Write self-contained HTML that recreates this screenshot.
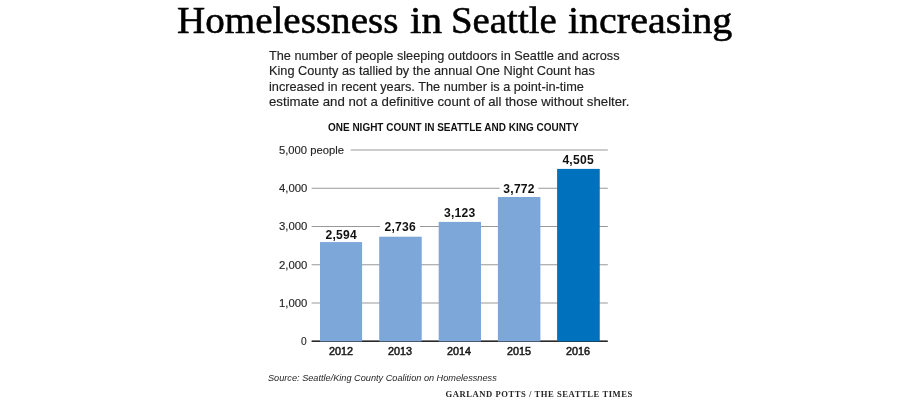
<!DOCTYPE html>
<html><head><meta charset="utf-8">
<style>
html,body{margin:0;padding:0;background:#fff;}
body{width:900px;height:400px;position:relative;overflow:hidden;font-family:"Liberation Sans",sans-serif;color:#1a1a1a;}
.abs{position:absolute;white-space:nowrap;transform-origin:left top;}
.tt{top:-1px;font-family:"Liberation Serif",serif;font-size:37.5px;line-height:44px;color:#000;-webkit-text-stroke:0.55px #000;}
.d{font-size:13px;line-height:15px;color:#222;left:269px;-webkit-text-stroke:0.15px #222;}
#sub{left:327.5px;top:120.8px;font-size:11.2px;line-height:12px;font-weight:bold;color:#111;transform:scaleX(0.892);}
.yl{position:absolute;font-size:11.6px;line-height:12px;color:#262626;-webkit-text-stroke:0.15px #262626;white-space:nowrap;transform-origin:left top;}
.xl{position:absolute;font-size:11.7px;line-height:12px;color:#1a1a1a;white-space:nowrap;transform-origin:left top;-webkit-text-stroke:0.55px #1a1a1a;}
.vl{position:absolute;font-size:12.1px;letter-spacing:0.25px;line-height:12px;font-weight:bold;color:#111;white-space:nowrap;padding:0 4px;transform-origin:left top;}
#src{left:267.8px;top:372.0px;font-size:9.7px;line-height:11px;font-style:italic;color:#262626;transform:scaleX(0.946);}
#cred{left:445.4px;top:388.7px;font-family:"Liberation Serif",serif;font-size:8.6px;line-height:11px;font-weight:bold;letter-spacing:0.55px;color:#262626;}
#wrap{position:absolute;left:0;top:0;width:900px;height:400px;will-change:transform;}
</style></head><body><div id="wrap">
<div id="t1" class="abs tt" style="left:176.6px;transform:scaleX(1.042)">Homelessness</div>
<div id="t2" class="abs tt" style="left:409.7px;transform:scaleX(1.10)">in</div>
<div id="t3" class="abs tt" style="left:451.4px;transform:scaleX(1.036)">Seattle</div>
<div id="t4" class="abs tt" style="left:568.0px;transform:scaleX(1.066)">increasing</div>

<div id="d1" class="abs d" style="top:47.9px;transform:scaleX(0.978)">The number of people sleeping outdoors in Seattle and across</div>
<div id="d2" class="abs d" style="top:63.3px;transform:scaleX(0.98)">King County as tallied by the annual One Night Count has</div>
<div id="d3" class="abs d" style="top:78.6px;transform:scaleX(0.98)">increased in recent years. The number is a point-in-time</div>
<div id="d4" class="abs d" style="top:93.9px;transform:scaleX(1.018)">estimate and not a definitive count of all those without shelter.</div>

<div id="sub" class="abs">ONE NIGHT COUNT IN SEATTLE AND KING COUNTY</div>

<svg id="chart" width="900" height="400" viewBox="0 0 900 400" style="position:absolute;left:0;top:0">
<rect x="350.70" y="149.50" width="257.10" height="1.00" fill="#999"/>
<rect x="311.60" y="187.75" width="188.00" height="1.00" fill="#999"/>
<rect x="538.40" y="187.75" width="69.40" height="1.00" fill="#999"/>
<rect x="311.60" y="226.00" width="68.40" height="1.00" fill="#999"/>
<rect x="420.00" y="226.00" width="187.80" height="1.00" fill="#999"/>
<rect x="311.60" y="264.25" width="296.20" height="1.00" fill="#999"/>
<rect x="311.60" y="302.50" width="296.20" height="1.00" fill="#999"/>
<rect x="311.6" y="340.45" width="296.2" height="1.45" fill="#111"/>
<rect x="320.00" y="242.10" width="42.10" height="99.30" fill="#7da6d9"/>
<rect x="379.20" y="236.70" width="42.50" height="104.70" fill="#7da6d9"/>
<rect x="438.70" y="221.90" width="42.30" height="119.50" fill="#7da6d9"/>
<rect x="497.90" y="197.00" width="42.50" height="144.40" fill="#7da6d9"/>
<rect x="557.10" y="168.90" width="42.65" height="172.50" fill="#0071bc"/>
</svg>
<!-- y labels -->
<div id="y5" class="yl" style="left:278.7px;top:143.6px;transform:scaleX(0.968)">5,000 people</div>
<div id="y4" class="yl" style="left:278.7px;top:182px;transform:scaleX(0.978)">4,000</div>
<div id="y3" class="yl" style="left:278.7px;top:220.3px;transform:scaleX(0.978)">3,000</div>
<div id="y2" class="yl" style="left:278.7px;top:258.6px;transform:scaleX(0.978)">2,000</div>
<div id="y1" class="yl" style="left:278.7px;top:296.9px;transform:scaleX(0.978)">1,000</div>
<div id="y0" class="yl" style="left:300.8px;top:335.2px;transform:scaleX(0.88)">0</div>

<!-- value labels -->
<div id="v1" class="vl" style="left:321.5px;top:229.4px">2,594</div>
<div id="v2" class="vl" style="left:380.5px;top:220.6px">2,736</div>
<div id="v3" class="vl" style="left:440px;top:206.6px">3,123</div>
<div id="v4" class="vl" style="left:499.3px;top:183.3px">3,772</div>
<div id="v5" class="vl" style="left:558.4px;top:153.8px">4,505</div>

<!-- x labels -->
<div id="x1" class="xl" style="left:328.7px;top:345px;transform:scaleX(0.925)">2012</div>
<div id="x2" class="xl" style="left:388.0px;top:345px;transform:scaleX(0.925)">2013</div>
<div id="x3" class="xl" style="left:447.3px;top:345px;transform:scaleX(0.925)">2014</div>
<div id="x4" class="xl" style="left:506.6px;top:345px;transform:scaleX(0.925)">2015</div>
<div id="x5" class="xl" style="left:565.9px;top:345px;transform:scaleX(0.925)">2016</div>

<div id="src" class="abs">Source: Seattle/King County Coalition on Homelessness</div>
<div id="cred" class="abs">GARLAND POTTS / THE SEATTLE TIMES</div>
</div></body></html>
